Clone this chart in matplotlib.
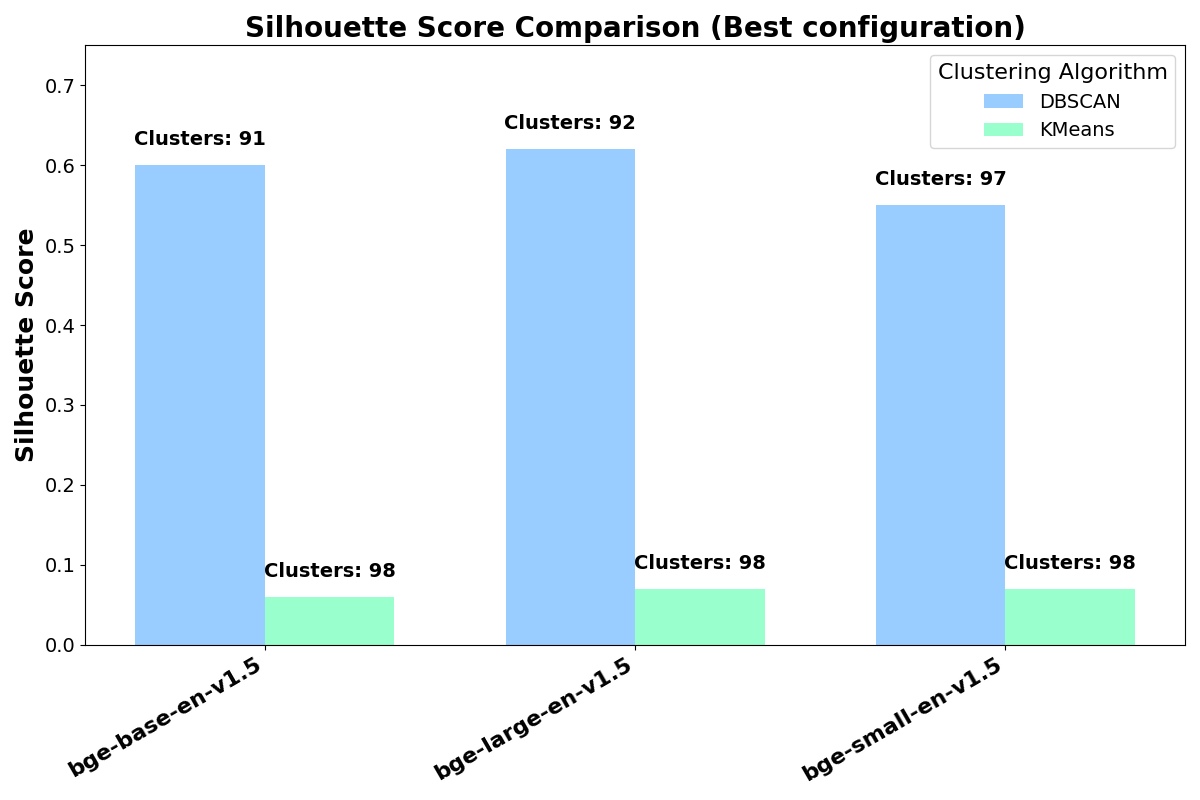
import matplotlib.pyplot as plt
import numpy as np

# data
models = ['bge-base-en-v1.5', 'bge-large-en-v1.5', 'bge-small-en-v1.5']
dbscan_scores = [0.60, 0.62, 0.55]
kmeans_scores = [0.06, 0.07, 0.07]
dbscan_clusters = [91, 92, 97]
kmeans_clusters = [98, 98, 98]

x = np.arange(len(models))
width = 0.35

fig, ax = plt.subplots(figsize=(12, 8), dpi=100)

bars_db = ax.bar(x - width / 2, dbscan_scores, width, color='#99ccff', label='DBSCAN')
bars_km = ax.bar(x + width / 2, kmeans_scores, width, color='#99ffcc', label='KMeans')

# cluster count labels above each bar
for bars, counts in [(bars_db, dbscan_clusters), (bars_km, kmeans_clusters)]:
    for b, c in zip(bars, counts):
        ax.text(b.get_x() + b.get_width() / 2, b.get_height() + 0.02,
                f'Clusters: {c}', ha='center', va='bottom',
                fontsize=14, fontweight='bold')

ax.set_title('Silhouette Score Comparison (Best configuration)', fontsize=20, fontweight='bold')
ax.set_ylabel('Silhouette Score', fontsize=18, fontweight='bold')
ax.set_ylim(0, 0.75)
ax.set_xticks(x)
ax.set_xticklabels(models, rotation=30, ha='right', fontsize=16, fontweight='bold')
ax.tick_params(axis='y', labelsize=14)

ax.legend(title='Clustering Algorithm', fontsize=14, title_fontsize=16, loc='upper right')

plt.tight_layout()
plt.savefig('out.png', dpi=100)
